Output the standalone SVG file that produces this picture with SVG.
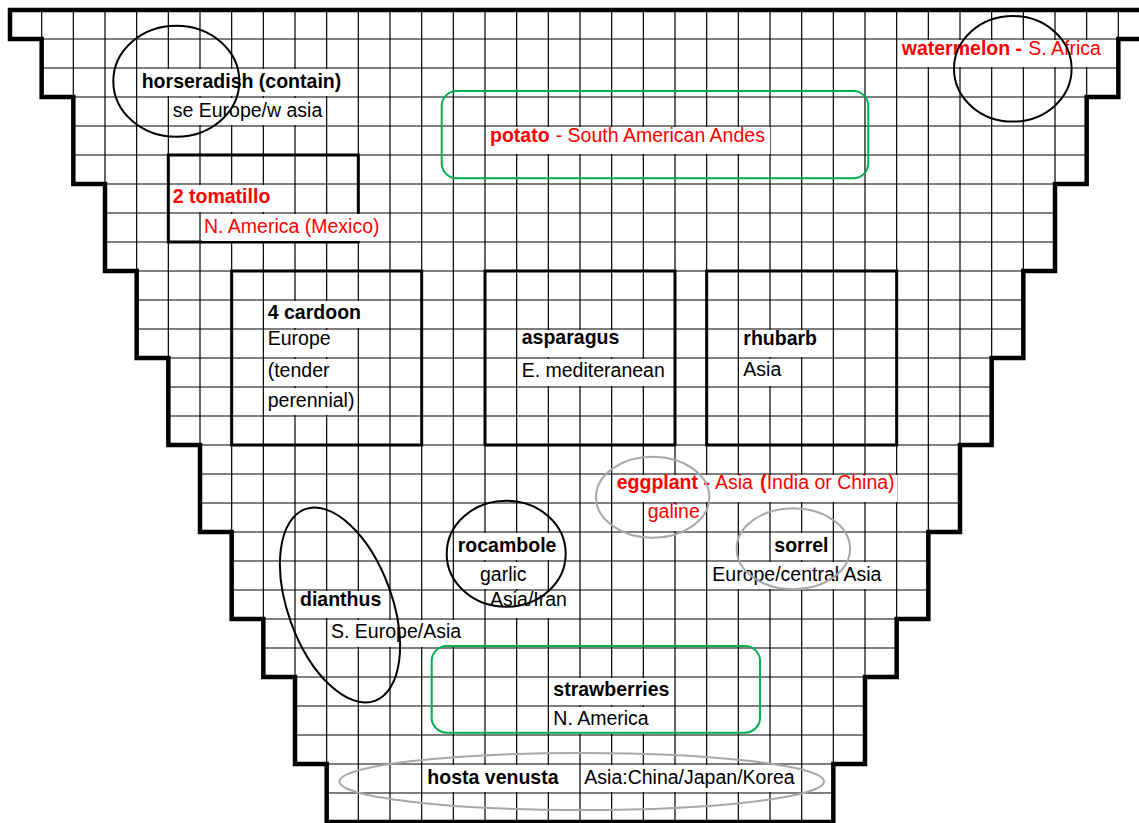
<svg xmlns="http://www.w3.org/2000/svg" width="1139" height="823" viewBox="0 0 1139 823">
<style>
text{font-family:"Liberation Sans",Arial,sans-serif;font-size:19.5px;fill:#000}
.b{font-weight:bold;font-size:21px}
.red{fill:#ff0000}
.bg{fill:#fff}
.grid{fill:none;stroke:#000;stroke-width:1.2}
.outline{fill:none;stroke:#000;stroke-width:4.5;stroke-linejoin:miter;stroke-linecap:square}
.box{fill:none;stroke:#000;stroke-width:3}
.ring{fill:none;stroke:#000;stroke-width:2}
.gray{fill:none;stroke:#a8a8a8;stroke-width:2}
.green{fill:none;stroke:#00b050;stroke-width:2}
</style>
<defs>
<clipPath id="shape">
<polygon points="10,10 10,39 41.67,39 41.67,97 73.33,97 73.33,184 105,184 105,271 136.67,271 136.67,358 168.33,358 168.33,445 200,445 200,532 231.67,532 231.67,619 263.33,619 263.33,677 295,677 295,764 326.67,764 326.67,822 833.33,822 833.33,764 865,764 865,677 896.67,677 896.67,619 928.33,619 928.33,532 960,532 960,445 991.67,445 991.67,358 1023.33,358 1023.33,271 1055,271 1055,184 1086.67,184 1086.67,97 1118.33,97 1118.33,39 1150,39 1150,10"/>
</clipPath>
</defs>
<rect width="1139" height="823" fill="#fff"/>
<g id="bed">
<path class="grid" clip-path="url(#shape)" d="M41.67 10V822M73.33 10V822M105 10V822M136.67 10V822M168.33 10V822M200 10V822M231.67 10V822M263.33 10V822M295 10V822M326.67 10V822M358.33 10V822M390 10V822M421.67 10V822M453.33 10V822M485 10V822M516.67 10V822M548.33 10V822M580 10V822M611.67 10V822M643.33 10V822M675 10V822M706.67 10V822M738.33 10V822M770 10V822M801.67 10V822M833.33 10V822M865 10V822M896.67 10V822M928.33 10V822M960 10V822M991.67 10V822M1023.33 10V822M1055 10V822M1086.67 10V822M1118.33 10V822M10 39H1150M10 68H1150M10 97H1150M10 126H1150M10 155H1150M10 184H1150M10 213H1150M10 242H1150M10 271H1150M10 300H1150M10 329H1150M10 358H1150M10 387H1150M10 416H1150M10 445H1150M10 474H1150M10 503H1150M10 532H1150M10 561H1150M10 590H1150M10 619H1150M10 648H1150M10 677H1150M10 706H1150M10 735H1150M10 764H1150M10 793H1150"/>
<polygon class="outline" points="10,10 10,39 41.67,39 41.67,97 73.33,97 73.33,184 105,184 105,271 136.67,271 136.67,358 168.33,358 168.33,445 200,445 200,532 231.67,532 231.67,619 263.33,619 263.33,677 295,677 295,764 326.67,764 326.67,822 833.33,822 833.33,764 865,764 865,677 896.67,677 896.67,619 928.33,619 928.33,532 960,532 960,445 991.67,445 991.67,358 1023.33,358 1023.33,271 1055,271 1055,184 1086.67,184 1086.67,97 1118.33,97 1118.33,39 1150,39 1150,10"/>
</g>
<g id="connectors"/>
<g id="horseradish">
<rect class="bg" x="140" y="69" width="203" height="27"/>
<rect class="bg" x="171" y="98" width="154" height="27"/>
<text class="b" transform="translate(141.7 88.3) scale(.93 1)">horseradish (contain)</text>
<text x="172.7" y="116.7">se Europe/w asia</text>
<ellipse class="ring" cx="176.3" cy="81.2" rx="63" ry="55.5"/>
</g>
<g id="watermelon">
<rect class="bg" x="900" y="40" width="205" height="27"/>
<text class="b red" transform="translate(901.7 55) scale(.93 1)">watermelon -</text>
<text class="red" x="1028.3" y="55">S. Africa</text>
<ellipse class="ring" cx="1012.8" cy="68.8" rx="58.8" ry="52.8"/>
</g>
<g id="potato">
<rect class="bg" x="488" y="127" width="282" height="27"/>
<text class="b red" transform="translate(490 141.7) scale(.93 1)">potato</text>
<text class="red" x="555.7" y="141.7">- South American Andes</text>
<rect class="green" x="441.7" y="91" width="426.6" height="87.3" rx="15" ry="15"/>
</g>
<g id="tomatillo">
<rect class="box" x="168.33" y="155" width="190" height="87"/>
<rect class="bg" x="171" y="185" width="103" height="27"/>
<rect class="bg" x="202" y="214" width="182" height="27"/>
<text class="b red" transform="translate(172.7 203.3) scale(.93 1)">2 tomatillo</text>
<text class="red" x="204" y="233.3">N. America (Mexico)</text>
</g>
<g id="cardoon">
<rect class="box" x="231.67" y="271" width="190" height="174"/>
<rect class="bg" x="266" y="301" width="97" height="27"/>
<rect class="bg" x="266" y="330" width="66" height="27"/>
<rect class="bg" x="266" y="359" width="65" height="27"/>
<rect class="bg" x="266" y="388" width="90" height="27"/>
<text class="b" transform="translate(267.7 319) scale(.93 1)">4 cardoon</text>
<text x="267.7" y="345">Europe</text>
<text x="267.7" y="376.7">(tender</text>
<text x="267.7" y="406.7">perennial)</text>
</g>
<g id="asparagus">
<rect class="box" x="485" y="271" width="190" height="174"/>
<rect class="bg" x="520" y="330" width="101" height="27"/>
<rect class="bg" x="520" y="359" width="147" height="27"/>
<text class="b" transform="translate(521.7 344) scale(.93 1)">asparagus</text>
<text x="521.7" y="376.7">E. mediteranean</text>
</g>
<g id="rhubarb">
<rect class="box" x="706.67" y="271" width="190" height="174"/>
<rect class="bg" x="741.5" y="330" width="78" height="27"/>
<rect class="bg" x="741.5" y="359" width="42" height="27"/>
<text class="b" transform="translate(743.3 345) scale(.93 1)">rhubarb</text>
<text x="743.3" y="376">Asia</text>
</g>
<g id="eggplant">
<rect class="bg" x="615" y="475" width="282" height="27"/>
<rect class="bg" x="646" y="504" width="56" height="27"/>
<text class="b red" transform="translate(616.7 489.3) scale(.93 1)">eggplant -</text>
<text class="red" x="715" y="489.3">Asia</text>
<text class="b red" transform="translate(760 489.3) scale(.93 1)">(</text>
<text class="red" x="766.7" y="489.3">India or China)</text>
<text class="red" x="647.7" y="518.3">galine</text>
<ellipse class="gray" cx="652.7" cy="497.2" rx="56.7" ry="40.5"/>
</g>
<g id="rocambole">
<rect class="bg" x="456" y="533" width="102" height="27"/>
<rect class="bg" x="478.5" y="562" width="50" height="27"/>
<rect class="bg" x="488.5" y="591" width="81" height="27"/>
<text class="b" transform="translate(457.7 551.7) scale(.93 1)">rocambole</text>
<text x="480" y="580.7">garlic</text>
<text x="490" y="606">Asia/Iran</text>
<ellipse class="ring" cx="506.2" cy="553.7" rx="59.5" ry="53"/>
</g>
<g id="sorrel">
<rect class="bg" x="772.5" y="533" width="58" height="27"/>
<rect class="bg" x="710.5" y="562" width="174" height="27"/>
<text class="b" transform="translate(774.3 551.7) scale(.93 1)">sorrel</text>
<text x="712.3" y="580.7">Europe/central Asia</text>
<ellipse class="gray" cx="793.3" cy="548.8" rx="56.7" ry="40.5"/>
</g>
<g id="dianthus">
<rect class="bg" x="298.5" y="591" width="85" height="27"/>
<rect class="bg" x="329.5" y="620" width="134" height="27"/>
<text class="b" transform="translate(300 605.7) scale(.93 1)">dianthus</text>
<text x="331" y="638.3">S. Europe/Asia</text>
<ellipse class="ring" cx="340" cy="605" rx="102" ry="52" transform="rotate(70 340 605)"/>
</g>
<g id="strawberries">
<rect class="bg" x="551.5" y="678" width="120" height="27"/>
<rect class="bg" x="551.5" y="707" width="100" height="27"/>
<text class="b" transform="translate(553.3 696) scale(.93 1)">strawberries</text>
<text x="553.3" y="725">N. America</text>
<rect class="green" x="431.7" y="646" width="328.3" height="86.7" rx="15" ry="15"/>
</g>
<g id="hosta">
<rect class="bg" x="425" y="765" width="153" height="27"/>
<rect class="bg" x="582" y="765" width="219" height="27"/>
<text class="b" transform="translate(427.3 784) scale(.93 1)">hosta venusta</text>
<text x="584.3" y="784">Asia:China/Japan/Korea</text>
<ellipse class="gray" cx="581.7" cy="781.5" rx="242.3" ry="28.5"/>
</g>
</svg>
